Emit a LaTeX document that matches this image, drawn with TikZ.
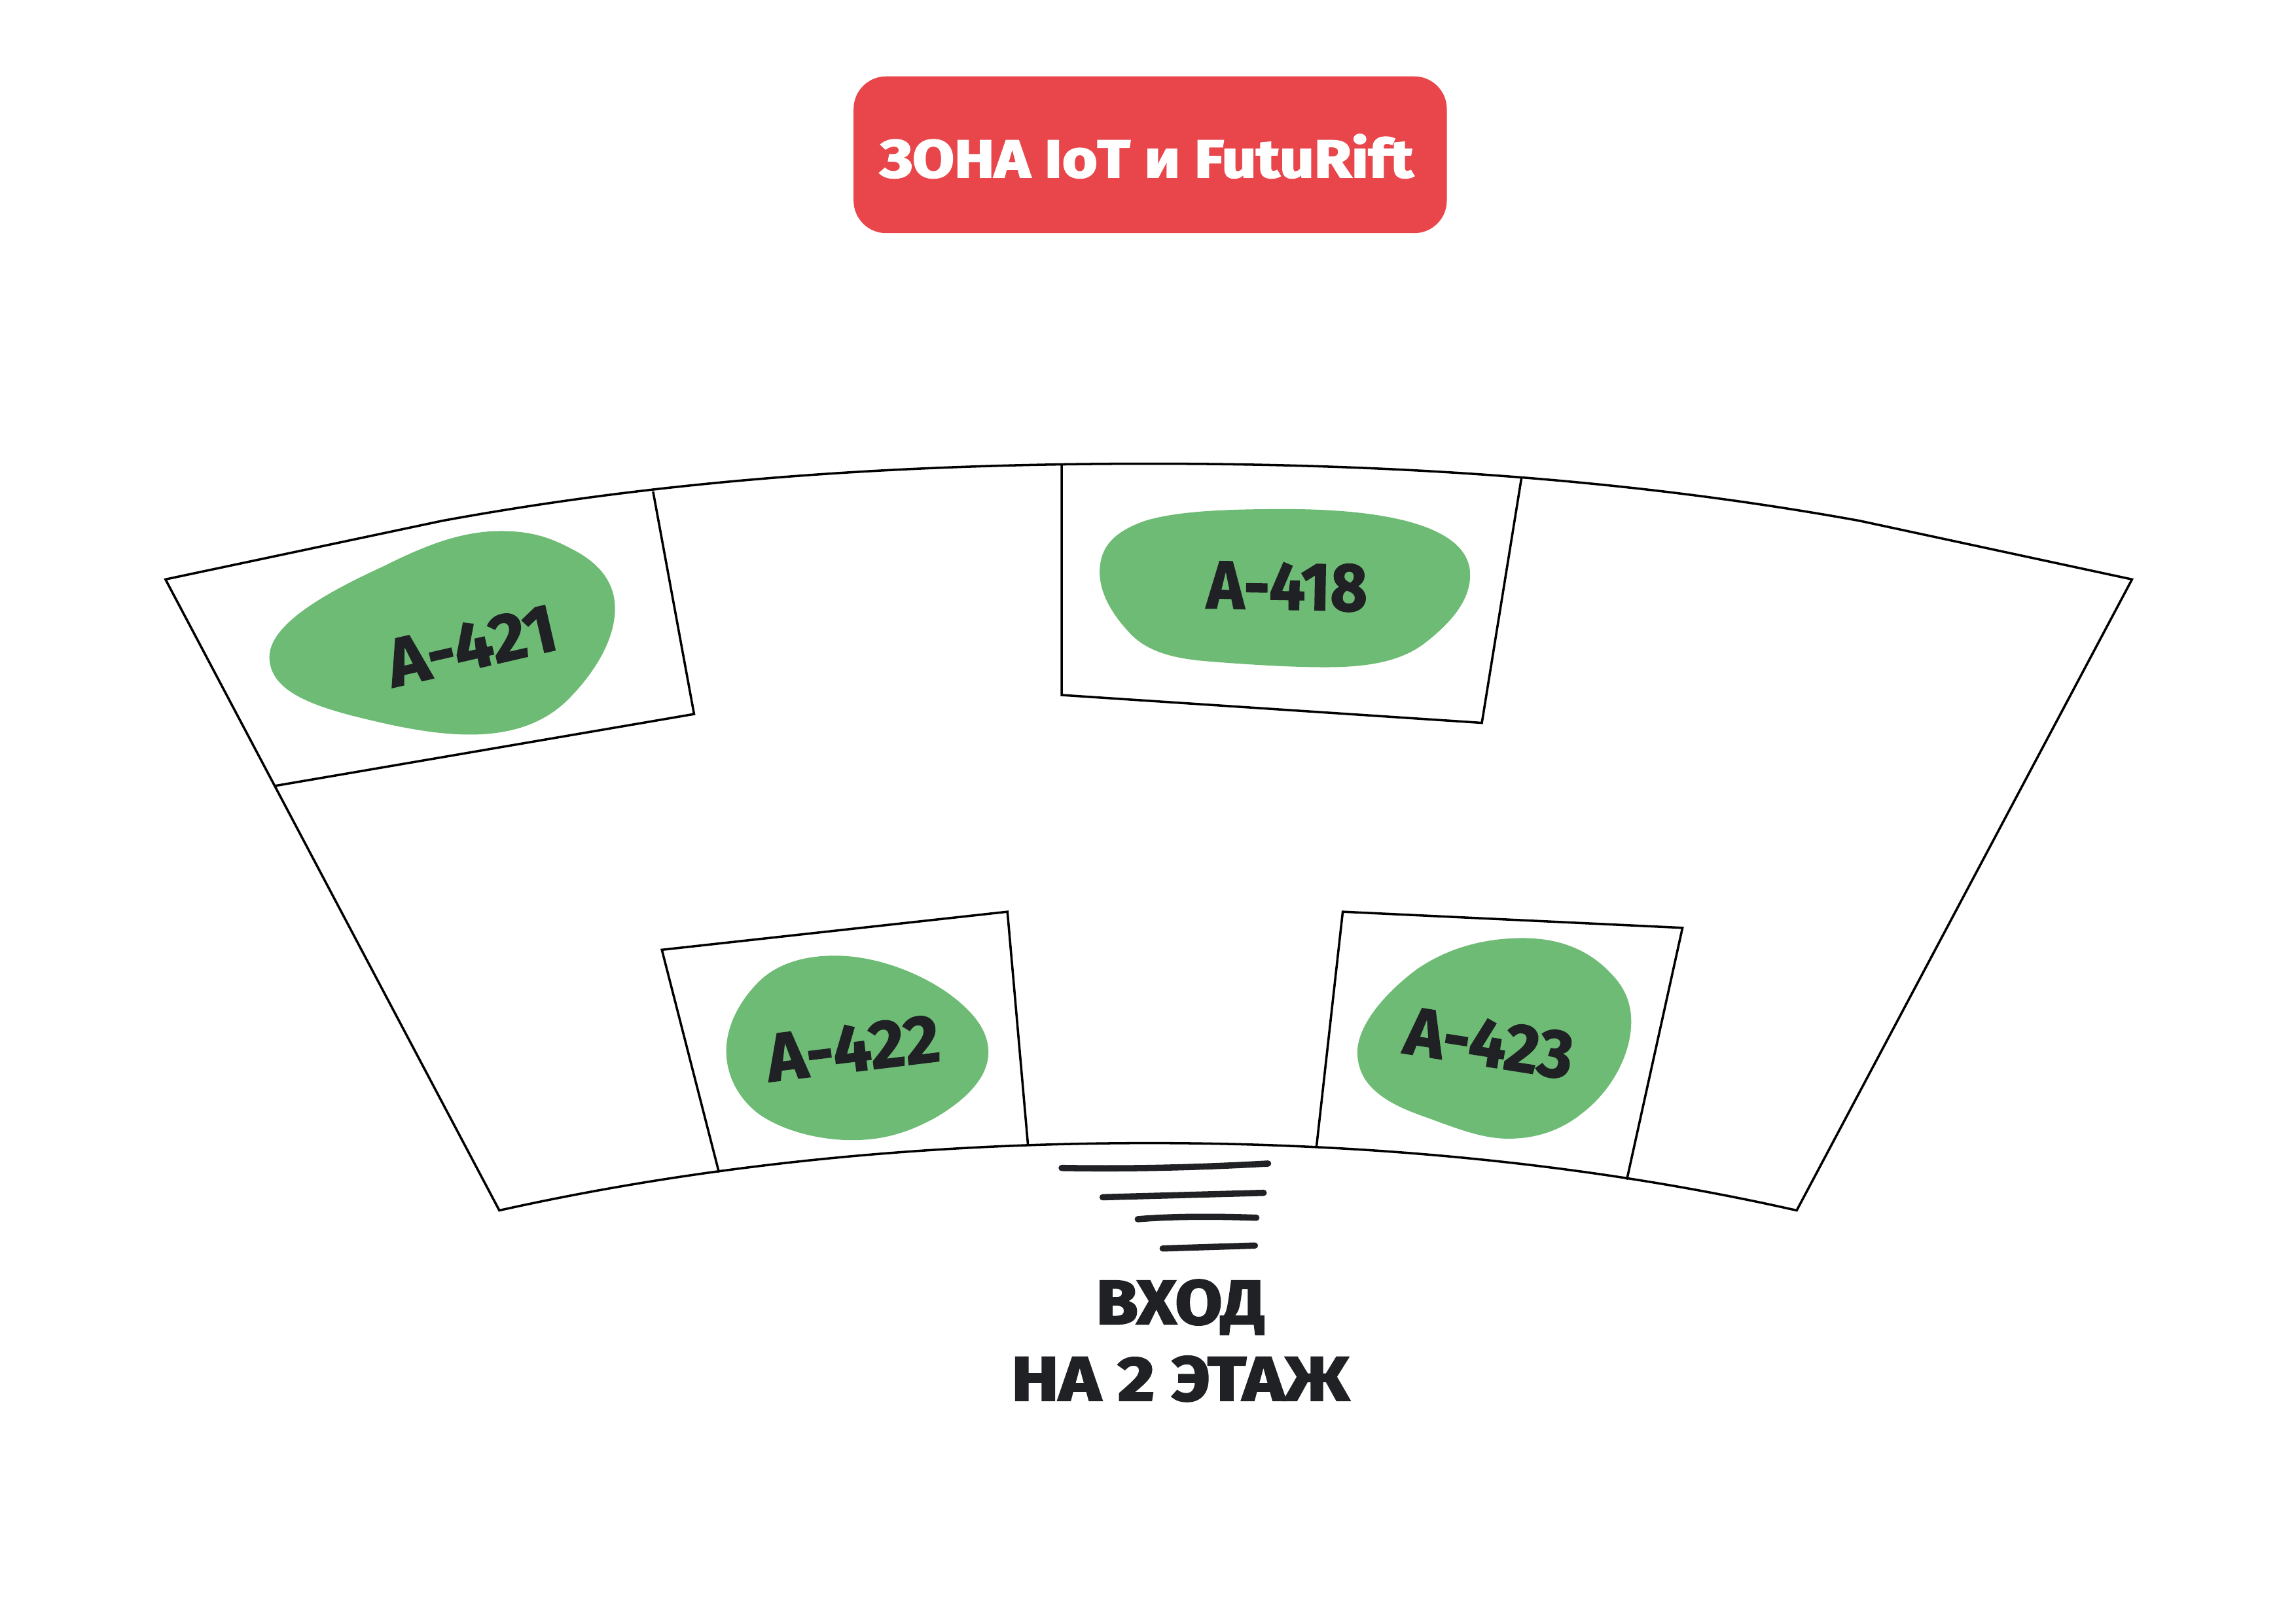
\documentclass[tikz,border=0pt]{standalone}
\usepackage{fontspec}
\setmainfont{Fira Sans}[UprightFont=*,BoldFont=* Bold]
\newfontfamily\heavy{Fira Sans}[UprightFont=* Bold,FakeBold=1.6]
\newfontfamily\heavier{Fira Sans}[UprightFont=* Bold,FakeBold=2.6]
\definecolor{zred}{HTML}{E9464B}
\definecolor{zgreen}{HTML}{6EBB75}
\definecolor{zink}{HTML}{1F2124}
\tikzset{
  wall/.style={draw=black,line width=0.85pt,line join=miter},
  blob/.style={fill=zgreen,draw=none},
  roomlabel/.style={text=zink,font=\heavy\fontsize{25}{25}\selectfont,inner sep=0pt},
  entrytext/.style={text=zink,font=\heavier\fontsize{23}{23}\selectfont,inner sep=0pt},
  stairline/.style={draw=zink,line width=2.3pt,line cap=round},
}
\begin{document}
\begin{tikzpicture}[x=0.018941cm,y=-0.018941cm]
\useasboundingbox (0,-0.7) rectangle (1568,1107.8);
% title
\node[fill=zred,rounded corners=0.42cm,minimum width=7.671cm,minimum height=2.027cm,inner sep=0pt] (titlebox) at (785.5,105) {};
\node[text=white,inner sep=0pt,xscale=1.14,font=\heavier\fontsize{19.5}{20}\selectfont] (title) at (783,106) {ЗОНА IoT и FutuRift};
% blobs
\fill[blob] (184,448) .. controls (184,425) and (225,403) .. (262,386) .. controls (290,372) and (315,362) .. (342,362) .. controls (362,362) and (375,366) .. (390,374) .. controls (408,383) and (420,396) .. (420,415) .. controls (420,437) and (405,460) .. (388,477) .. controls (372,493) and (350,501) .. (321,501) .. controls (295,501) and (268,495) .. (240,488) .. controls (210,480) and (184,470) .. (184,448) -- cycle;
\fill[blob] (751,390) .. controls (751,372) and (762,362) .. (782,355) .. controls (805,348) and (840,347) .. (878,347) .. controls (945,347) and (1004,358) .. (1004,392) .. controls (1004,410) and (990,425) .. (975,437) .. controls (958,451) and (935,455) .. (905,455) .. controls (880,455) and (850,453) .. (825,451) .. controls (800,449) and (782,444) .. (770,430) .. controls (760,419) and (751,405) .. (751,390) -- cycle;
\fill[blob] (496,717) .. controls (496,700) and (505,683) .. (518,670) .. controls (530,658) and (548,652) .. (570,652) .. controls (600,652) and (630,665) .. (648,678) .. controls (663,689) and (675,702) .. (675,718) .. controls (675,735) and (660,750) .. (640,762) .. controls (622,772) and (605,778) .. (582,778) .. controls (560,778) and (535,772) .. (518,760) .. controls (505,750) and (496,735) .. (496,717) -- cycle;
\fill[blob] (927,718) .. controls (927,700) and (945,678) .. (968,661) .. controls (990,646) and (1015,640) .. (1040,640) .. controls (1065,640) and (1085,648) .. (1100,664) .. controls (1110,674) and (1114,685) .. (1114,697) .. controls (1114,720) and (1100,745) .. (1080,760) .. controls (1065,772) and (1048,777) .. (1030,777) .. controls (1010,777) and (990,768) .. (970,761) .. controls (945,752) and (927,740) .. (927,718) -- cycle;
% outer outline
\draw[wall] (113,395) -- (302,355) .. controls (460,326) and (620,316) .. (785,316) .. controls (950,316) and (1110,326) .. (1270,355) -- (1456,395) -- (1227,826) .. controls (1090,795) and (940,780) .. (785,780) .. controls (630,780) and (480,795) .. (341,826) -- cycle;
% rooms
\draw[wall] (446,335) -- (474,487) -- (188,536);
\draw[wall] (725,317) -- (725,474) -- (1012,493) -- (1039,326);
\draw[wall] (491,800) -- (452,648) -- (688,622) -- (702,781);
\draw[wall] (899,783) -- (917,622) -- (1149,633) -- (1111,805);
% labels
\node[roomlabel,rotate=13,xscale=1.02] (a421) at (322,440) {A-421};
\node[roomlabel,rotate=-1,xscale=0.94] (a418) at (879,400) {A-418};
\node[roomlabel,rotate=7,xscale=1.0] (a422) at (582.5,715) {A-422};
\node[roomlabel,rotate=-9,xscale=0.975] (a423) at (1017,712) {A-423};
% stairs
\draw[stairline] (725,797) .. controls (780,798) and (830,796) .. (866,794);
\draw[stairline] (753,817) -- (863,814);
\draw[stairline] (777,832) .. controls (800,830) and (830,830) .. (858,831);
\draw[stairline] (794,852) -- (857,850);
% entrance text
\node[entrytext,xscale=1.09] (entry1) at (806,892) {ВХОД};
\node[entrytext,xscale=1.14] (entry2) at (806,941) {НА 2 ЭТАЖ};
\end{tikzpicture}
\end{document}
